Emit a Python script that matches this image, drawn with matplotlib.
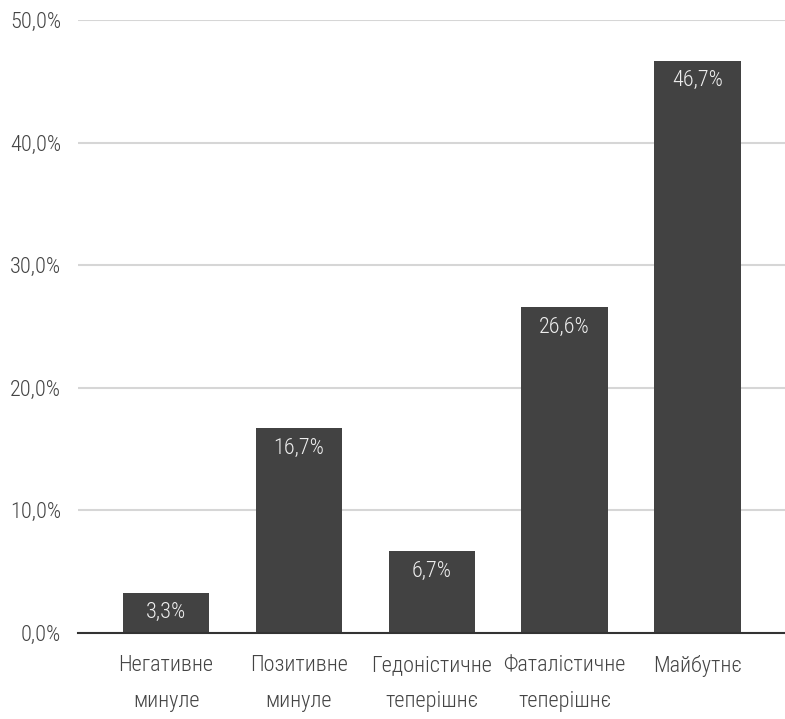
import matplotlib
matplotlib.use("Agg")
import matplotlib.pyplot as plt
from matplotlib.ticker import FuncFormatter

categories = ["Негативне\nминуле", "Позитивне\nминуле", "Гедоністичне\nтеперішнє",
              "Фаталістичне\nтеперішнє", "Майбутнє"]
values = [3.3, 16.7, 6.7, 26.6, 46.7]
yticks = [0, 10, 20, 30, 40, 50]

plt.rcParams['font.family'] = ['Roboto Condensed', 'DejaVu Sans']
plt.rcParams['font.weight'] = 300

fig = plt.figure(figsize=(7.85, 7.19), dpi=100)
ax = fig.add_axes([0.0994, 0.1196, 0.9006, 0.8524])

x = list(range(len(values)))
ax.bar(x, values, width=0.65, color="#424242", zorder=3)

# value labels inside the top of each bar
for xi, v in zip(x, values):
    ax.text(xi, v - 0.8, f"{v:.1f}%".replace(".", ","), ha="center", va="top",
            color="#eeeeee", fontsize=16, zorder=4)

ax.set_xlim(-0.663, 4.66)
ax.set_ylim(0, 50)
ax.set_yticks(yticks)
ax.yaxis.set_major_formatter(FuncFormatter(lambda v, p: f"{v:.1f}%".replace(".", ",")))
ax.set_xticks(x)
ax.set_xticklabels(categories, linespacing=1.95)

ax.grid(axis="y", color="#d6d6d6", linewidth=1.5, zorder=0)
for s in ["top", "right", "left"]:
    ax.spines[s].set_visible(False)
ax.spines["bottom"].set_color("#333333")
ax.spines["bottom"].set_linewidth(1.5)
ax.spines["bottom"].set_zorder(5)

ax.tick_params(axis="both", length=0, labelsize=16, colors="#444444")
ax.tick_params(axis="y", pad=12)
ax.tick_params(axis="x", pad=16)

fig.savefig("out.png", dpi=100)
